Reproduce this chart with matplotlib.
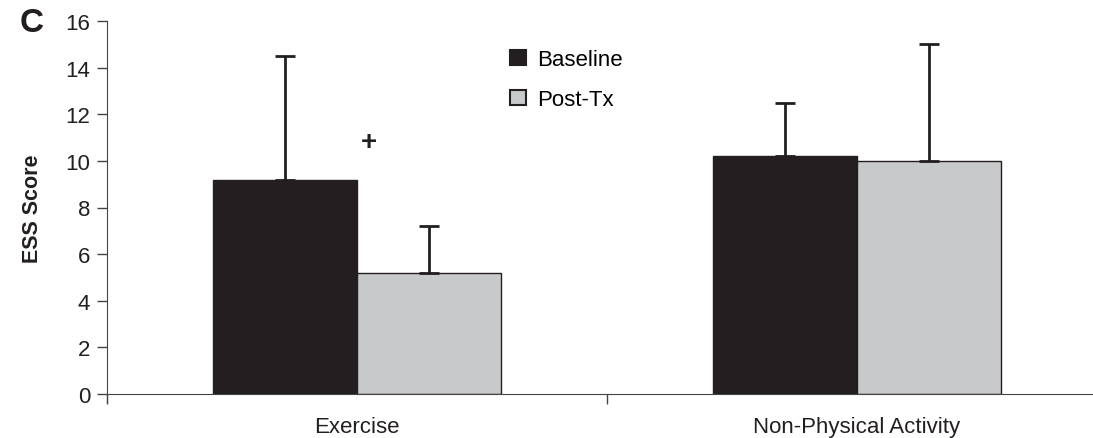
import matplotlib.pyplot as plt
import numpy as np
from matplotlib.patches import Patch

plt.rcParams['font.family'] = ['Liberation Sans', 'DejaVu Sans']

# Datos
groups = ['Exercise', 'Non-Physical Activity']
series = ['Baseline', 'Post-Tx']
baseline = [9.2, 10.2]
baseline_err = [5.3, 2.3]
post_tx = [5.2, 10.0]
post_tx_err = [2.0, 5.0]
colors = ['#231f20', '#c8c9cb']

fig = plt.figure(figsize=(10.93, 4.39), dpi=100)
ax = fig.add_axes([107 / 1093, 1 - 395 / 439, 1000 / 1093, 373 / 439])

x = np.arange(len(groups))
w = 0.288
err_kw = dict(ecolor='#231f20', elinewidth=2, capsize=7, capthick=2)
ax.bar(x - w / 2, baseline, w, color=colors[0], edgecolor='#231f20', linewidth=1,
       yerr=[np.zeros(len(x)), baseline_err], error_kw=err_kw, zorder=2)
ax.bar(x + w / 2, post_tx, w, color=colors[1], edgecolor='#231f20', linewidth=1,
       yerr=[np.zeros(len(x)), post_tx_err], error_kw=err_kw, zorder=2)

ax.set_xlim(-0.5, 1.5)
ax.set_ylim(0, 16)
ax.set_yticks(range(0, 17, 2))
ax.set_xticks([-0.5, 0.5])
ax.set_xticklabels(['', ''])
ax.set_xticks(x, minor=True)
ax.set_xticklabels(groups, minor=True, fontsize=16, color='#231f20')
ax.tick_params(axis='x', which='minor', length=0, pad=16)
ax.tick_params(axis='x', which='major', direction='out', length=7, width=1,
               colors='#444444')
ax.tick_params(axis='y', length=7, width=1, labelsize=16, pad=5, colors='#444444')
for lab in ax.get_yticklabels():
    lab.set_color('#231f20')
for s in ['top', 'right']:
    ax.spines[s].set_visible(False)
ax.spines['left'].set_color('#444444')
ax.spines['bottom'].set_color('#444444')
ax.spines['left'].set_bounds(-0.35, 16)
ax.set_ylabel('ESS Score', fontsize=15.5, fontweight='bold', color='#231f20', labelpad=16)

ax.text(0.023, 10.8, '+', fontsize=20, fontweight='bold', ha='center', va='center',
        color='#231f20')

handles = [Patch(facecolor=c, edgecolor='#231f20', linewidth=1.5) for c in colors]
ax.legend(handles, series, loc='upper left', bbox_to_anchor=(0.383, 0.978), frameon=False,
          fontsize=16, handlelength=0.7, handleheight=0.7, handletextpad=0.5,
          labelspacing=0.85)

fig.text(20 / 1093, 1 - 24 / 439, 'C', fontsize=24, fontweight='bold', va='center',
         color='#231f20')

fig.savefig('out.png', dpi=100)
